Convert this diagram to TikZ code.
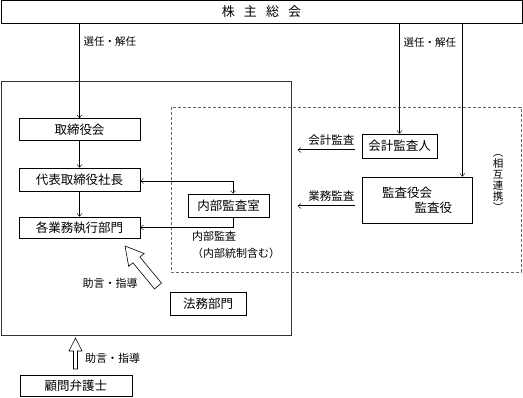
\documentclass[tikz,border=0pt]{standalone}
\usepackage{fontspec}
\setmainfont{Noto Sans CJK JP}
\usetikzlibrary{arrows.meta, calc}

\begin{document}
\begin{tikzpicture}[x=1pt, y=-1pt, >={Straight Barb[length=3pt,width=5pt]},
    box/.style={draw, line width=0.6pt, inner sep=0pt, font=\fontsize{12.5}{15}\selectfont},
    lbl/.style={inner sep=0pt, font=\fontsize{10.5}{12}\selectfont},
    dbl/.style={->, double, double distance=0.8pt, line width=0.45pt}]
    \useasboundingbox (0,0) rectangle (523,397);

    % Frames
    \draw[line width=0.6pt, black!80] (1,81) rectangle (291,335);
    \draw[black!60, line width=0.6pt, dash pattern=on 3pt off 2pt] (171,107) rectangle (521,272);

    % Boxes
    \node[box, minimum width=521pt, minimum height=23pt, font=\fontsize{13}{15}\selectfont] (soukai) at (261.5,12) {株\hspace{0.7em}主\hspace{0.7em}総\hspace{0.7em}会};
    \node[box, minimum width=121pt, minimum height=22pt] (tori) at (79.5,129.5) {取締役会};
    \node[box, minimum width=121pt, minimum height=23pt] (daihyo) at (79.5,179.5) {代表取締役社長};
    \node[box, minimum width=121pt, minimum height=21pt] (kakugyo) at (79.5,227.5) {各業務執行部門};
    \node[box, minimum width=81pt, minimum height=23pt] (naibu) at (228.5,205.5) {内部監査室};
    \node[box, minimum width=76pt, minimum height=23pt] (houmu) at (208,303.5) {法務部門};
    \node[box, minimum width=112pt, minimum height=21pt] (komon) at (76,385.5) {顧問弁護士};
    \node[box, minimum width=75pt, minimum height=24pt] (kaikeinin) at (399.5,146) {会計監査人};
    \node[box, minimum width=110pt, minimum height=46pt, align=left] (kansa) at (417,200) {監査役会\\\hspace{2.6em}監査役};

    % Election lines
    \draw[->] (soukai.south -| tori.north) -- node[lbl, pos=0.19, right=4pt] {選任・解任} (tori.north);
    \draw[->] (soukai.south -| kaikeinin.north) -- node[lbl, pos=0.17, right=4pt] {選任・解任} (kaikeinin.north);
    \coordinate (kansain) at ([xshift=-10pt]kansa.north east);
    \draw[->] (soukai.south -| kansain) -- (kansain);

    % Management chain
    \draw[->] (tori) -- (daihyo);
    \draw[->] (daihyo) -- (kakugyo);
    \draw[<->] ([yshift=-1.5pt]daihyo.east) -| ([xshift=4.5pt]naibu.north);
    \draw[->] ([xshift=4.5pt]naibu.south) |- (kakugyo.east);
    \node[lbl, anchor=north west, align=left, font=\fontsize{11}{17}\selectfont] (naibulbl) at (192,231) {内部監査\\（内部統制含む）};

    % Audits
    \draw[dbl] ([shift={(-7pt,-4pt)}]kaikeinin.west) -- node[lbl, pos=0.41, above=4pt, font=\fontsize{11.5}{13}\selectfont] {会計監査} ++(-57,0);
    \draw[dbl] ([shift={(-7pt,-6pt)}]kansa.west) -- node[lbl, pos=0.41, above=4pt, font=\fontsize{11.5}{13}\selectfont] {業務監査} ++(-57,0);
    \node[lbl, align=center, font=\fontsize{10.5}{11}\selectfont] (sougo) at (498,183.5) {︵\\相\\互\\連\\携\\︶};

    % Advice arrows
    \draw[line width=0.6pt, fill=white] (161.5,283.1) -- (139.9,257.0) -- (144.1,253.5) -- (125,246)
        -- (128.7,266.3) -- (132.9,262.8) -- (154.5,288.9) -- cycle;
    \node[lbl, font=\fontsize{11}{13}\selectfont] (jogen) at (110,283) {助言・指導};
    \draw[line width=0.6pt] (77.5,369) -- (77.5,351) -- (82,351) -- (75.5,338) -- (69,351)
        -- (73.5,351) -- (73.5,369) -- cycle;
    \node[lbl, anchor=west, font=\fontsize{11}{13}\selectfont] (jogenb) at (85,358) {助言・指導};
\end{tikzpicture}
\end{document}
